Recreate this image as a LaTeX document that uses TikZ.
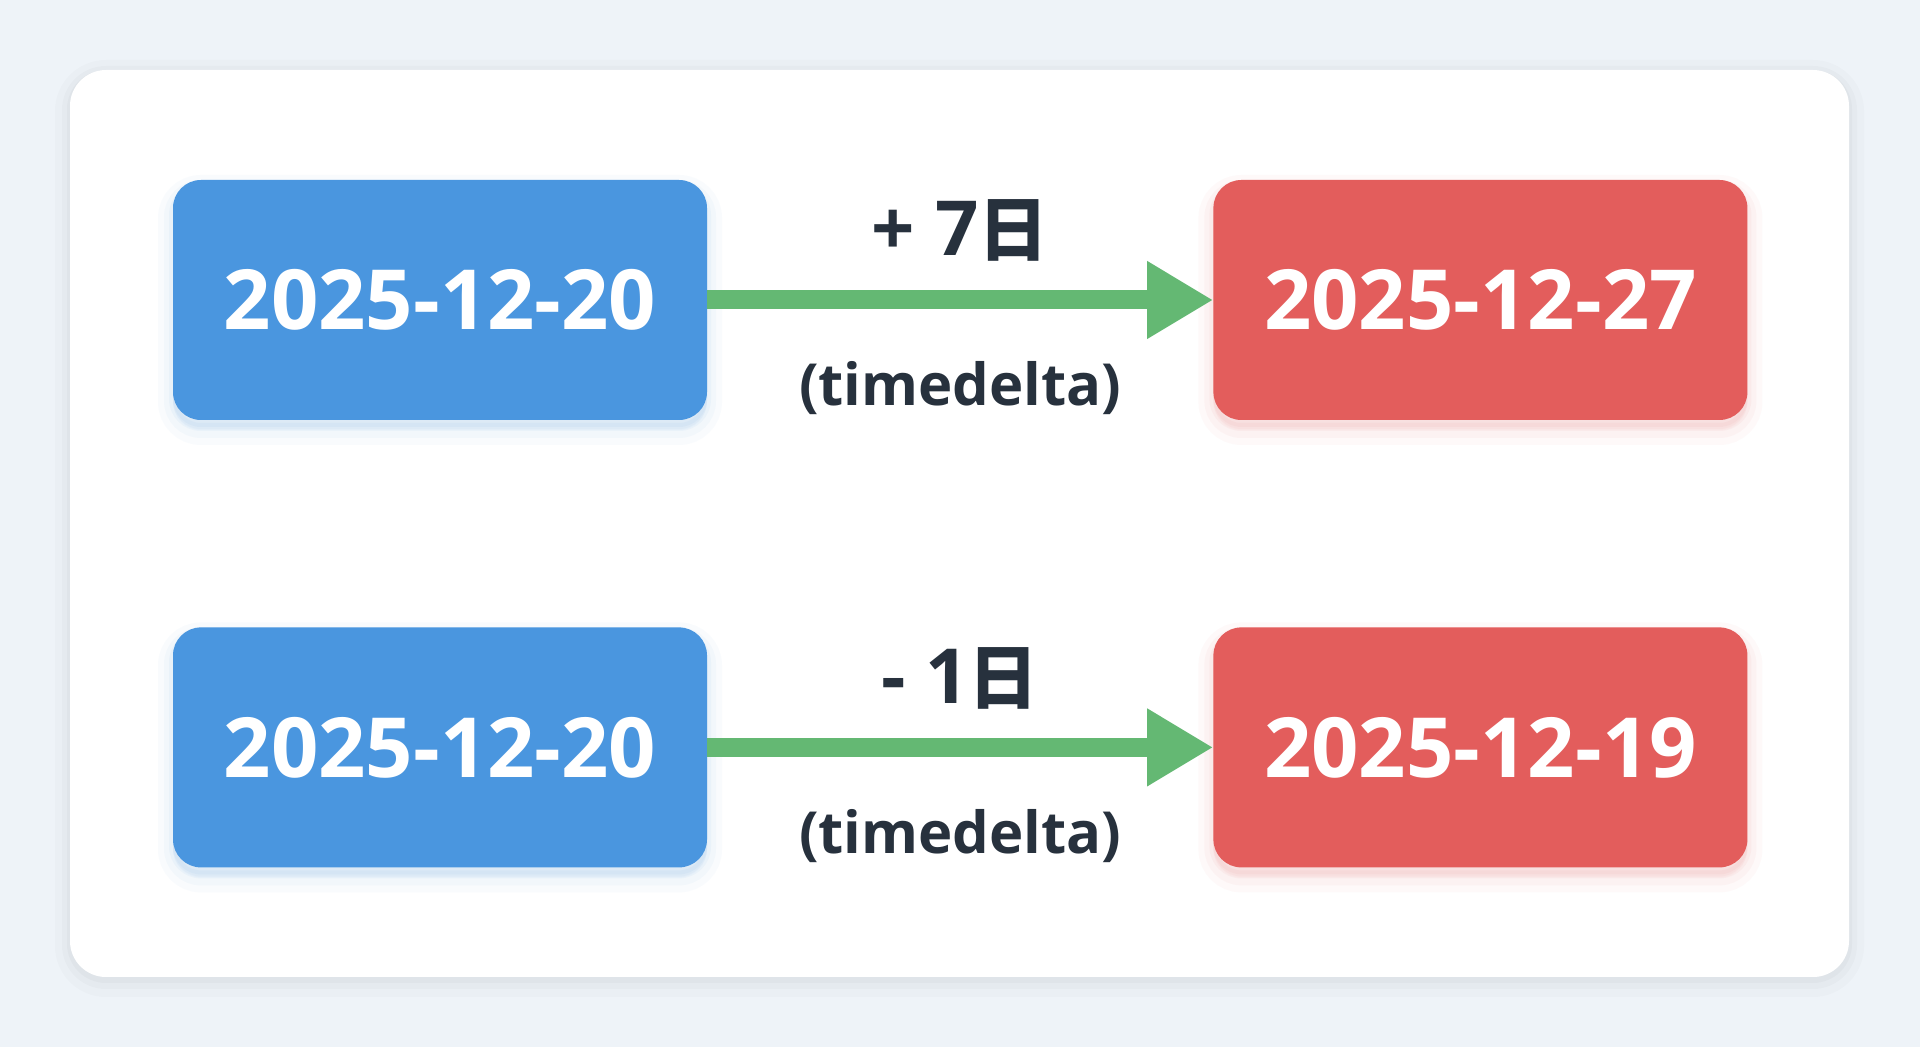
\documentclass[tikz,border=0pt]{standalone}
\usepackage{fontspec}
\setmainfont{Open Sans}
\newfontfamily\cjk{Noto Sans CJK SC}
\usetikzlibrary{positioning,arrows.meta}
\definecolor{pagebg}{HTML}{EEF3F8}
\definecolor{startblue}{HTML}{4A96DF}
\definecolor{endred}{HTML}{E35D5C}
\definecolor{arrowgreen}{HTML}{64B873}
\definecolor{labeltext}{HTML}{27313D}
\tikzset{
  card/.style={
    fill=white,
    rounded corners=36pt,
    minimum width=1779pt,
    minimum height=907pt,
    preaction={draw=black, draw opacity=0.015, line width=30pt, transform canvas={yshift=-5pt}},
    preaction={draw=black, draw opacity=0.02, line width=16pt, transform canvas={yshift=-4pt}},
    preaction={draw=black, draw opacity=0.025, line width=6pt, transform canvas={yshift=-3pt}}
  },
  glow/.style={
    preaction={fill=#1, fill opacity=0.03, draw=#1, draw opacity=0.03, line width=30pt, transform canvas={yshift=-10pt}},
    preaction={fill=#1, fill opacity=0.04, draw=#1, draw opacity=0.04, line width=18pt, transform canvas={yshift=-9pt}},
    preaction={fill=#1, fill opacity=0.05, draw=#1, draw opacity=0.05, line width=8pt, transform canvas={yshift=-7pt}}
  },
  datebox/.style={
    rectangle,
    rounded corners=28pt,
    minimum width=534pt,
    minimum height=240pt,
    inner sep=0pt,
    text=white,
    font=\fontsize{83}{100}\selectfont\bfseries
  },
  startbox/.style={datebox, glow=startblue, fill=startblue},
  endbox/.style={datebox, glow=endred, fill=endred},
  line/.style={draw=arrowgreen, line width=19pt, -{Triangle[length=66pt,width=73pt]}},
  op/.style={anchor=base, inner sep=0pt, text=labeltext, font=\fontsize{76}{90}\selectfont\bfseries},
  note/.style={anchor=base, inner sep=0pt, text=labeltext, font=\fontsize{58}{70}\selectfont\bfseries}
}

\begin{document}
\begin{tikzpicture}[x=1pt,y=1pt]

	\fill[pagebg] (0,0) rectangle (1920,1047);
	\useasboundingbox (0,0) rectangle (1920,1047);

	\node[card] (card) at (959.5,523.5) {};

	% first row
	\node[startbox] (start_add) at (440,747) {2025-12-20};
	\node[endbox, right = 506pt of start_add] (end_add) {2025-12-27};
	\draw[line] (start_add) -- (end_add)
		node [midway, op, yshift=44pt] {+ 7{\cjk\fontsize{70}{80}\selectfont 日}}
		node [midway, note, yshift=-106pt] {(timedelta)};

	% second row
	\node[startbox, below = 207pt of start_add] (start_sub) {2025-12-20};
	\node[endbox, right = 506pt of start_sub] (end_sub) {2025-12-19};
	\draw[line] (start_sub) -- (end_sub)
		node [midway, op, yshift=44pt] {- 1{\cjk\fontsize{70}{80}\selectfont 日}}
		node [midway, note, yshift=-106pt] {(timedelta)};

\end{tikzpicture}
\end{document}
